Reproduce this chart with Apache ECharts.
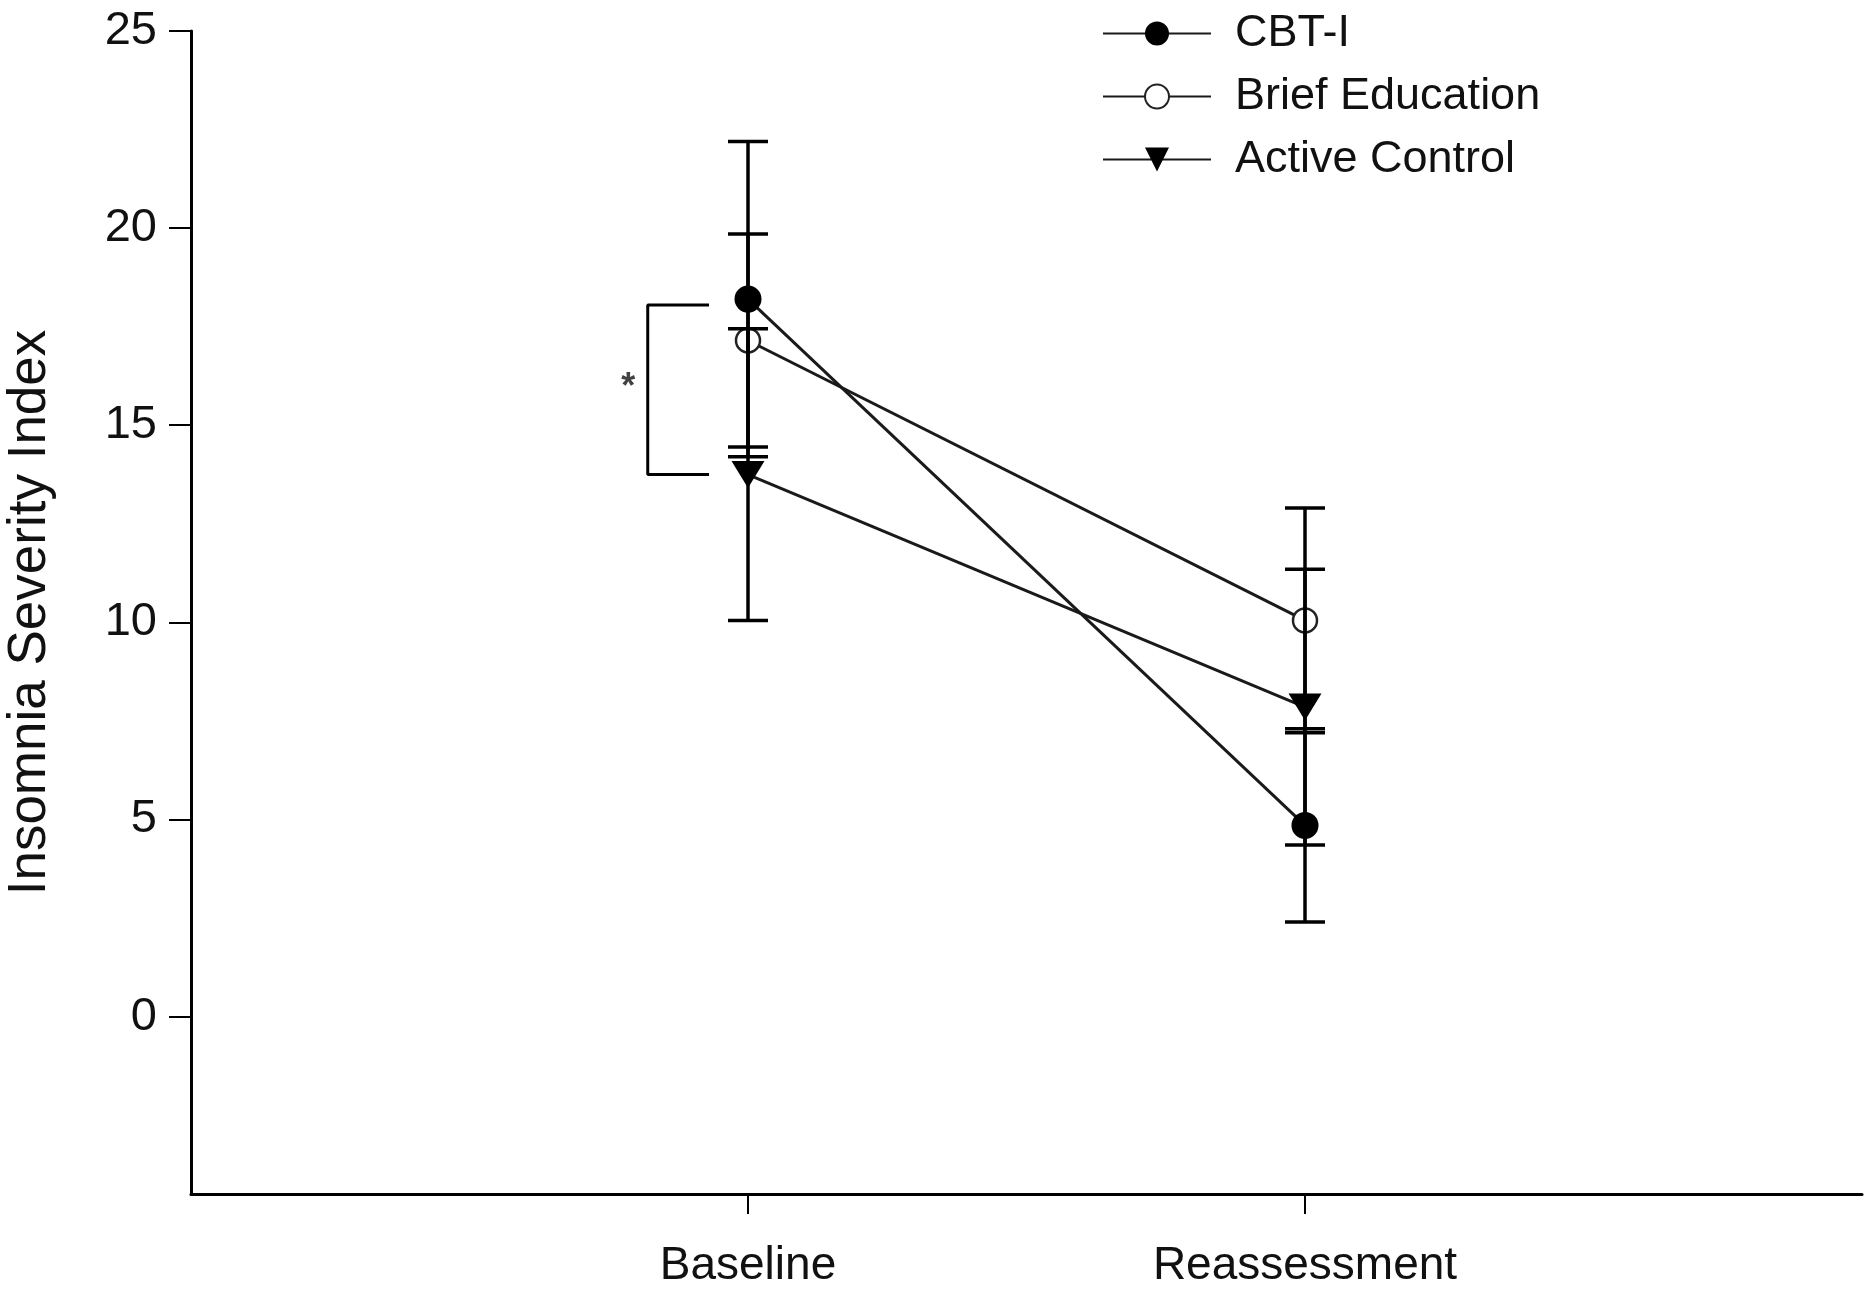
<!DOCTYPE html>
<html>
<head>
<meta charset="utf-8">
<script src="https://cdn.jsdelivr.net/npm/echarts@6/dist/echarts.min.js"></script>
<style>
  html, body { margin: 0; padding: 0; background: #fff; }
  #chart { width: 1872px; height: 1293px; }
</style>
</head>
<body>
<div id="chart"></div>
<script>
// time points (x position 1 and 2 on a 0..3 axis)
const categories = ["Baseline", "Reassessment"];
const xPos = [1, 2];

// means and error bar half widths
const cbtMean = [18.2, 4.85];
const cbtErr = [4.0, 2.45];
const eduMean = [17.15, 10.05];
const eduErr = [2.7, 2.85];
const acMean = [13.75, 7.85];
const acErr = [3.7, 3.5];

// y ticks
const yTicks = [0, 5, 10, 15, 20, 25];

// significance bracket at baseline (x, y in data units)
const bracketX = [0.93, 0.82, 0.82, 0.93];
const bracketY = [18.05, 18.05, 13.75, 13.75];
const starPos = [0.785, 15.95];

const FONT = "Liberation Sans, Arial, sans-serif";

const chart = echarts.init(document.getElementById("chart"));

const toPts = (m) => xPos.map((x, i) => [x, m[i]]);
const toErr = (m, e) => xPos.map((x, i) => [x, m[i] - e[i], m[i] + e[i]]);

// 误差线
const errSeries = (name, m, e) => ({
  name: name + "-err",
  type: "custom",
  z: 5,
  silent: true,
  data: toErr(m, e),
  renderItem: function (params, api) {
    const x = api.value(0);
    const lo = api.coord([x, api.value(1)]);
    const hi = api.coord([x, api.value(2)]);
    const cap = 20;
    const st = { stroke: "#000", lineWidth: 3.5 };
    return {
      type: "group",
      children: [
        { type: "line", shape: { x1: lo[0], y1: lo[1], x2: hi[0], y2: hi[1] }, style: st },
        { type: "line", shape: { x1: lo[0] - cap, y1: lo[1], x2: lo[0] + cap, y2: lo[1] }, style: st },
        { type: "line", shape: { x1: hi[0] - cap, y1: hi[1], x2: hi[0] + cap, y2: hi[1] }, style: st },
      ],
    };
  },
});

const option = {
  backgroundColor: "#fff",
  animation: false,
  textStyle: { fontFamily: FONT },
  grid: { left: 191, right: 10, top: 31, bottom: 99, outerBoundsMode: "none", containLabel: false },
  legend: {
    orient: "vertical",
    left: 1097,
    top: 6,
    itemWidth: 108,
    itemHeight: 30,
    itemGap: 18,
    data: ["CBT-I", "Brief Education", "Active Control"],
    textStyle: { fontSize: 45, color: "#111", fontFamily: FONT, padding: [0, 0, 0, 19] },
  },
  xAxis: {
    type: "value",
    min: 0,
    max: 3,
    splitLine: { show: false },
    axisLine: { onZero: false, lineStyle: { color: "#000", width: 3 } },
    axisTick: { show: true, customValues: xPos, length: 20, lineStyle: { color: "#000", width: 2 } },
    axisLabel: {
      customValues: xPos,
      margin: 49,
      fontSize: 46,
      color: "#111",
      fontFamily: FONT,
      formatter: (v) => categories[xPos.indexOf(v)] || "",
    },
  },
  yAxis: {
    type: "value",
    min: -4.5,
    max: 25,
    name: "Insomnia Severity Index",
    nameLocation: "middle",
    nameGap: 134,
    nameTextStyle: { fontSize: 53, color: "#111", fontFamily: FONT },
    splitLine: { show: false },
    axisLine: { show: true, onZero: false, lineStyle: { color: "#000", width: 3 } },
    axisTick: { show: true, customValues: yTicks, length: 22, lineStyle: { color: "#000", width: 2 } },
    axisLabel: { customValues: yTicks, margin: 34, fontSize: 47, color: "#111", fontFamily: FONT },
  },
  series: [
    {
      name: "CBT-I",
      type: "line",
      data: toPts(cbtMean),
      symbol: "circle",
      symbolSize: 27,
      z: 3,
      lineStyle: { color: "#1a1a1a", width: 3 },
      itemStyle: { color: "#000" },
    },
    {
      name: "Brief Education",
      type: "line",
      data: toPts(eduMean),
      symbol: "circle",
      symbolSize: 24,
      z: 3,
      lineStyle: { color: "#1a1a1a", width: 3 },
      itemStyle: { color: "#fff", borderColor: "#222", borderWidth: 2.5 },
    },
    {
      name: "Active Control",
      type: "line",
      data: toPts(acMean),
      symbol: "triangle",
      symbolRotate: 180,
      symbolSize: [33, 27],
      z: 3,
      lineStyle: { color: "#1a1a1a", width: 3 },
      itemStyle: { color: "#000" },
    },
    errSeries("CBT-I", cbtMean, cbtErr),
    errSeries("Brief Education", eduMean, eduErr),
    errSeries("Active Control", acMean, acErr),
    {
      name: "bracket",
      type: "line",
      silent: true,
      symbol: "none",
      data: bracketX.map((x, i) => [x, bracketY[i]]),
      lineStyle: { color: "#000", width: 3 },
    },
    {
      name: "star",
      type: "scatter",
      silent: true,
      symbolSize: 0,
      data: [starPos],
      label: { show: true, formatter: "*", position: "inside", fontSize: 36, fontWeight: "bold", color: "#111", fontFamily: FONT },
    },
  ],
};

chart.setOption(option);
</script>
</body>
</html>
